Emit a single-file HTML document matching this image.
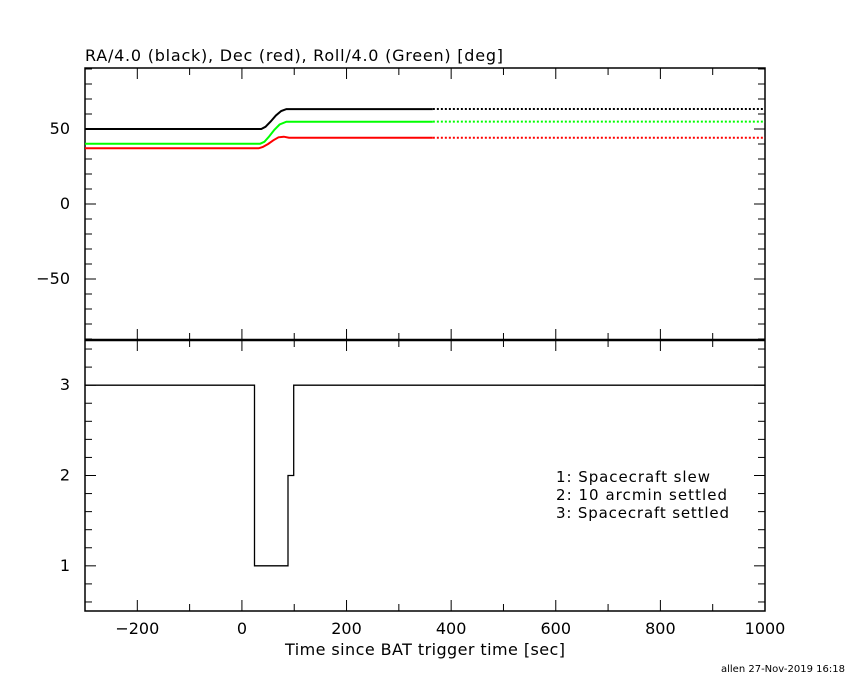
<!DOCTYPE html>
<html><head><meta charset="utf-8"><style>
html,body{margin:0;padding:0;background:#fff;}
svg text{font-family:"DejaVu Sans","Liberation Sans",sans-serif;font-size:15px;fill:#000;}
</style></head><body>
<svg id="chart" width="850" height="680" xmlns="http://www.w3.org/2000/svg">
<rect width="850" height="680" fill="#fff"/>
<text x="85" y="61" textLength="418" lengthAdjust="spacing" style="font-size:16px">RA/4.0 (black), Dec (red), Roll/4.0 (Green) [deg]</text>
<g id="frames"></g>
<g id="ticks"></g>
<g id="series"></g>
<text x="285" y="655" textLength="280" lengthAdjust="spacing" style="font-size:16px">Time since BAT trigger time [sec]</text>
<g>
<text x="556" y="482" textLength="154" lengthAdjust="spacing">1: Spacecraft slew</text>
<text x="556" y="500" textLength="171" lengthAdjust="spacing">2: 10 arcmin settled</text>
<text x="556" y="518" textLength="173" lengthAdjust="spacing">3: Spacecraft settled</text>
</g>
<text x="845" y="672" text-anchor="end" style="font-size:10px">allen 27-Nov-2019 16:18</text>
</svg>
<script>
const xTicks = [-200,0,200,400,600,800,1000];
const topYTicks = [-50,0,50];
const botYTicks = [1,2,3];
const raT = [-300,37,45,55,65,75,85,365];
const raV = [50,50,51.5,55,59,62,63.3,63.3];
const grT = [-300,35,43,52,62,72,85,365];
const grV = [40.2,40.2,41.5,45,49.5,53,54.9,54.9];
const deT = [-300,32,40,50,60,70,80,90,365];
const deV = [37.1,37.1,38,40,42.5,44.5,44.9,44.2,44.2];
const solidEnd = 365, tEnd = 1000;
const stepT = [-300,24,24,88,88,99,99,1000];
const stepV = [3,3,1,1,2,2,3,3];

const NS="http://www.w3.org/2000/svg";
const L=85,R=765,T1=68,B1=340,B2=611;
const X=t=>L+(t+300)*(R-L)/1300;
const Y1=v=>204-1.5*v;
const Y2=v=>B2-(v-0.5)*(B2-B1)/3;
function mk(tag,attrs,parent){const e=document.createElementNS(NS,tag);for(const k in attrs)e.setAttribute(k,attrs[k]);document.getElementById(parent).appendChild(e);return e;}
let e;
e=mk('rect',{x:L,y:T1,width:R-L,height:B2-T1,fill:'none',stroke:'#000','stroke-width':1.5},'frames');


e=mk('line',{x1:L,x2:R,y1:B1,y2:B1,stroke:'#000','stroke-width':2.5},'frames');


for(let t=-300;t<=1000;t+=100){
  const lab=xTicks.includes(t);const len=lab?11:7;const x=X(t);
  [T1,B1].forEach(y=>{mk('line',{x1:x,x2:x,y1:y,y2:y+len,stroke:'#000'},'ticks');});
  [B1,B2].forEach(y=>{mk('line',{x1:x,x2:x,y1:y,y2:y-len,stroke:'#000'},'ticks');});
}
xTicks.forEach(t=>{e=mk('text',{x:X(t),y:634,'text-anchor':'middle',style:'font-size:16px'},'ticks');e.textContent=(t<0?'\u2212'+(-t):t);

});
for(let v=-90;v<=90;v+=10){const y=Y1(v);const len=topYTicks.includes(v)?11:7;
  mk('line',{x1:L,x2:L+len,y1:y,y2:y,stroke:'#000'},'ticks');mk('line',{x1:R,x2:R-len,y1:y,y2:y,stroke:'#000'},'ticks');}
topYTicks.forEach(v=>{e=mk('text',{x:70,y:Y1(v)+5,'text-anchor':'end',style:'font-size:16px'},'ticks');e.textContent=(v<0?'\u2212'+(-v):v);

});
for(let i=3;i<=17;i++){const v=i/5;const y=Y2(v);const len=(i%5==0)?11:7;
  mk('line',{x1:L,x2:L+len,y1:y,y2:y,stroke:'#000'},'ticks');mk('line',{x1:R,x2:R-len,y1:y,y2:y,stroke:'#000'},'ticks');}
botYTicks.forEach(v=>{e=mk('text',{x:70,y:Y2(v)+5,'text-anchor':'end',style:'font-size:16px'},'ticks');e.textContent=v;

});
function series(ts,vs,col,name){
  const pts=ts.map((t,i)=>X(t).toFixed(1)+','+Y1(vs[i]).toFixed(1)).join(' ');
  e=mk('polyline',{points:pts,fill:'none',stroke:col,'stroke-width':2},'series');
  
  
  const lv=vs[vs.length-1];
  e=mk('line',{x1:X(solidEnd),x2:X(tEnd),y1:Y1(lv),y2:Y1(lv),stroke:col,'stroke-width':2,'stroke-dasharray':'2,2'},'series');
  
  
}
series(raT,raV,'#000','ra');
series(grT,grV,'#00ff00','roll');
series(deT,deV,'#ff0000','dec');
e=mk('polyline',{points:stepT.map((t,i)=>X(t).toFixed(1)+','+Y2(stepV[i]).toFixed(1)).join(' '),fill:'none',stroke:'#000','stroke-width':1.3},'series');


</script>
</body></html>
